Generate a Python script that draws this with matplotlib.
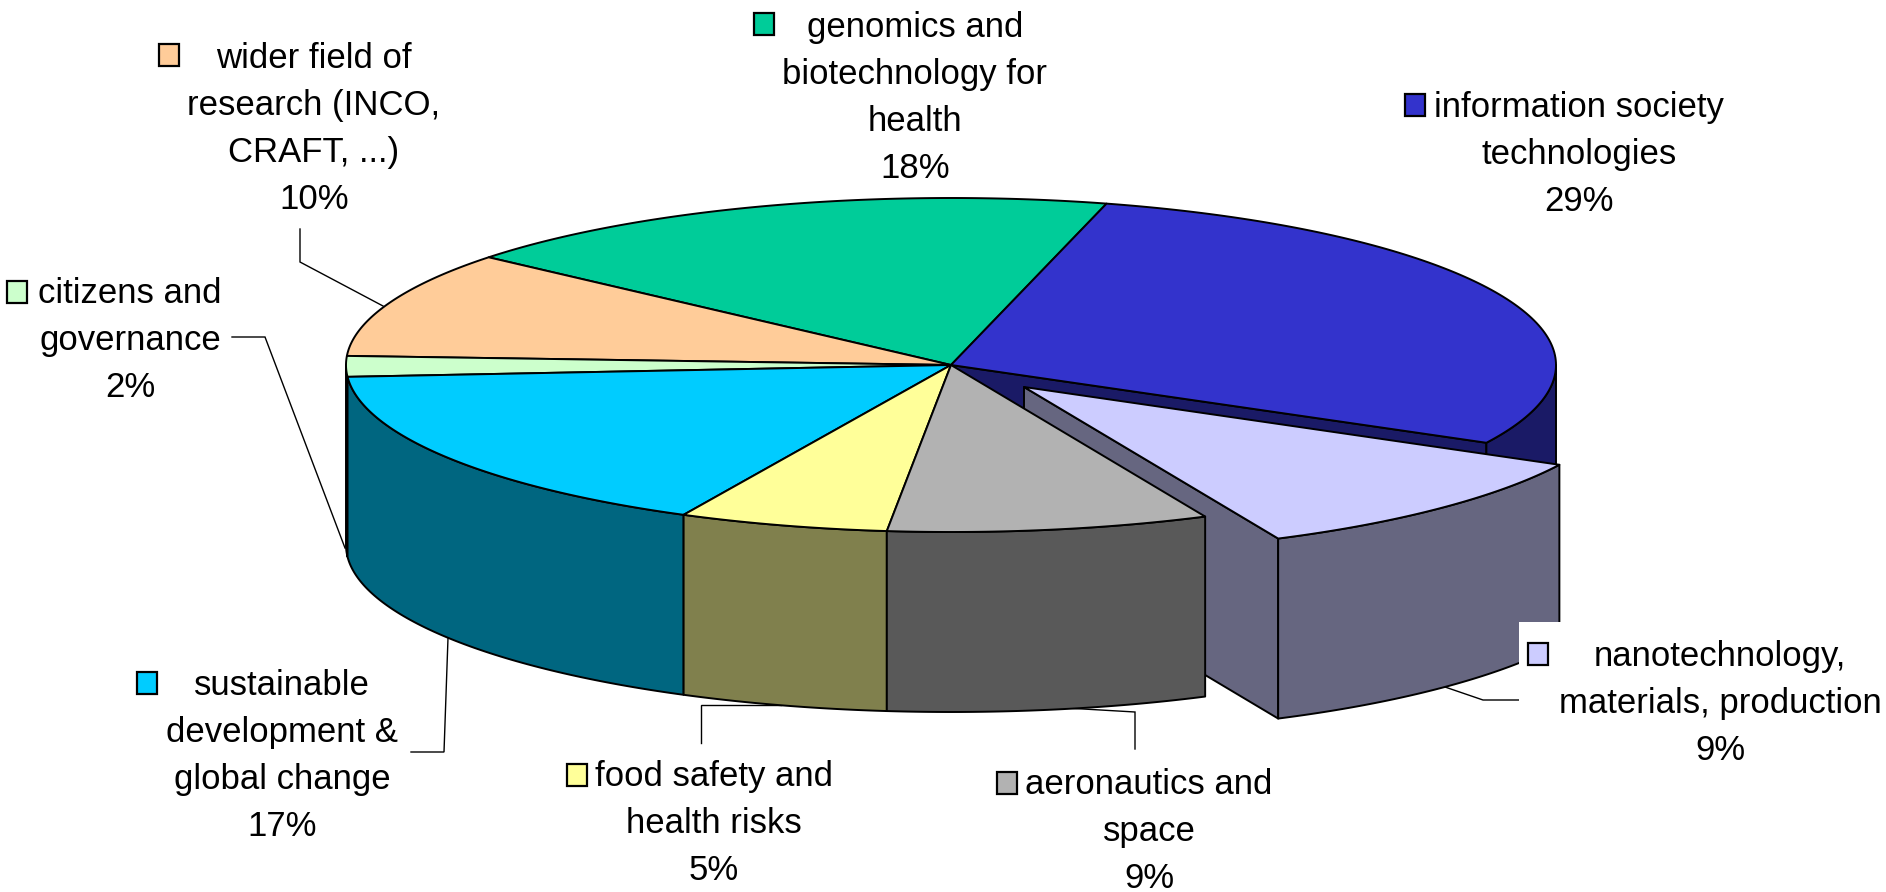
import numpy as np
import matplotlib
matplotlib.use("Agg")
import matplotlib.pyplot as plt
from matplotlib.patches import Polygon, Rectangle

# data, clockwise from the genomics/information boundary
names = ["information society\ntechnologies", "nanotechnology,\nmaterials, production",
         "aeronautics and\nspace", "food safety and\nhealth risks",
         "sustainable\ndevelopment &\nglobal change", "citizens and\ngovernance",
         "wider field of\nresearch (INCO,\nCRAFT, ...)", "genomics and\nbiotechnology for\nhealth"]
percent_labels = ["29%", "9%", "9%", "5%", "17%", "2%", "10%", "18%"]
# shares as drawn in the picture (the sizes of the slices, not the printed rounding)
shares = [28.6, 10.4, 8.6, 5.6, 16.6, 2.0, 10.3, 18.0]

top_colors = ["#3333CC", "#CCCCFF", "#B2B2B2", "#FFFF99", "#00CCFF", "#CCFFCC", "#FFCC99", "#00CC99"]
wall_colors = ["#1A1A66", "#666680", "#595959", "#80804D", "#006680", "#668066", "#806650", "#00664D"]

# layout in pixels of the 1886x892 picture
CX, CY = 951, 365
RX, RY = 605, 167
DEPTH = 180
START_ANGLE = 14.9
EXPLODE = {1: (73, 22)}
EDGE_LW = 1.4
FONT_SIZE = 25
LINE_STEP = 47

# text centre x, first line centre y, key left, key top
label_layout = {
    0: (1579, 104, 1405, 94),
    1: (1720, 653, 1528, 643),
    2: (1149, 781, 997, 772),
    3: (714, 773, 567, 764),
    4: (282, 682, 137, 672),
    5: (130, 290, 7, 281),
    6: (314, 55, 159, 44),
    7: (915, 24, 754, 13),
}
leaders = [
    [(1445, 687), (1483, 700), (1519, 700)],
    [(1135, 749), (1135, 712), (1066, 708)],
    [(701, 743), (701, 705), (781, 705)],
    [(448, 638), (444, 752), (411, 752)],
    [(232, 337), (265, 337), (345, 548)],
    [(300, 229), (300, 262), (383, 306)],
]


def rim(angles, cx, cy):
    """Points on the top ellipse, angle in degrees clockwise from 12 o'clock."""
    rad = np.radians(angles)
    return np.column_stack([cx + RX * np.sin(rad), cy - RY * np.cos(rad)])


def add_poly(ax, pts, color, z):
    ax.add_patch(Polygon(pts, closed=True, facecolor=color, edgecolor="black",
                         linewidth=EDGE_LW, joinstyle="round", zorder=z))


def draw_wall(ax, a1, a2, cx, cy, color, z):
    """Outer wall, only the part that faces the viewer."""
    lo, hi = max(a1, 90), min(a2, 270)
    if lo >= hi:
        return
    arc = rim(np.linspace(lo, hi, 80), cx, cy)
    low = arc[::-1] + [0, DEPTH]
    add_poly(ax, np.vstack([arc, low]), color, z)


def draw_slice(ax, i, a1, a2, z):
    dx, dy = EXPLODE.get(i, (0, 0))
    cx, cy = CX + dx, CY + dy
    apex = np.array([[cx, cy]])
    # cut face at the end of the slice shows when it looks towards the viewer
    if 90 < a2 < 180:
        p_end = rim(np.array([a2]), cx, cy)
        face = np.vstack([apex, p_end, p_end + [0, DEPTH], apex + [0, DEPTH]])
        add_poly(ax, face, wall_colors[i], z)
    draw_wall(ax, a1, a2, cx, cy, wall_colors[i], z + 1)
    top = np.vstack([apex, rim(np.linspace(a1, a2, 120), cx, cy)])
    add_poly(ax, top, top_colors[i], z + 2)


def main():
    plt.rcParams["font.family"] = ["Liberation Sans", "DejaVu Sans"]
    fig = plt.figure(figsize=(18.86, 8.92), dpi=100, facecolor="white")
    ax = fig.add_axes([0, 0, 1, 1])
    ax.set_xlim(0, 1886)
    ax.set_ylim(892, 0)
    ax.axis("off")

    sweep = np.array(shares) / sum(shares) * 360
    ends = START_ANGLE + np.cumsum(sweep)
    starts = ends - sweep

    # back to front: information, nanotechnology, then the rest of the pie
    z = 2
    for i in [7, 6, 0, 1, 5, 4, 3, 2]:
        draw_slice(ax, i, starts[i], ends[i], z)
        z += 3

    for pts in leaders:
        xs, ys = zip(*pts)
        ax.plot(xs, ys, color="black", lw=1.0, zorder=1, solid_joinstyle="miter")

    # the nanotechnology label sits on a white box over the wall
    ax.add_patch(Rectangle((1519, 622), 367, 150, facecolor="white", edgecolor="none", zorder=50))

    for i, (tx, ty, kx, ky) in label_layout.items():
        lines = names[i].split("\n") + [percent_labels[i]]
        for n, line in enumerate(lines):
            ax.text(tx, ty + n * LINE_STEP, line, ha="center", va="center_baseline",
                    fontsize=FONT_SIZE, color="black", zorder=60)
        ax.add_patch(Rectangle((kx, ky), 20, 22, facecolor=top_colors[i], edgecolor="black",
                               linewidth=1.6, zorder=60))

    fig.savefig("out.png", dpi=100, facecolor="white")


if __name__ == "__main__":
    main()
